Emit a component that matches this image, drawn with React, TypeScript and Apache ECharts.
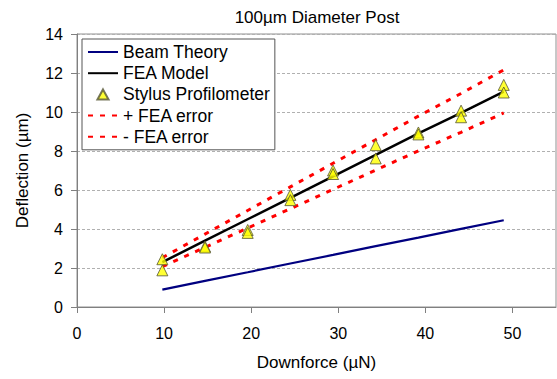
import React, { useEffect, useRef } from "react";
import * as echarts from "echarts";

const downforce = [9.8, 14.7, 19.6, 24.5, 29.4, 34.3, 39.2, 44.1, 49.0];
const beamTheory = [0.89, 1.34, 1.78, 2.23, 2.67, 3.12, 3.56, 4.01, 4.45];
const feaModel = [2.3, 3.4, 4.5, 5.6, 6.7, 7.8, 8.9, 9.95, 11.05];
const feaPlus = [2.53, 3.74, 4.95, 6.16, 7.37, 8.58, 9.79, 10.95, 12.16];
const feaMinus = [2.07, 3.06, 4.05, 5.04, 6.03, 7.02, 8.01, 8.96, 9.95];
const stylusHigh = [2.45, 3.1, 3.95, 5.75, 7.0, 8.3, 8.95, 10.07, 11.39];
const stylusLow = [1.88, 3.05, 3.8, 5.48, 6.82, 7.62, 8.85, 9.73, 11.0];
const xTicks = [0, 10, 20, 30, 40, 50];
const legendNames = ["Beam Theory", "FEA Model", "Stylus Profilometer", "+ FEA error", "- FEA error"];

const pairs = (ys: number[]) => downforce.map((x, i) => [x, ys[i]]);

const FONT = "'Liberation Sans', Arial, sans-serif";

export default function App() {
  const ref = useRef<HTMLDivElement>(null);
  useEffect(() => {
    if (!ref.current) return;
    const chart = echarts.init(ref.current, undefined, { renderer: "svg" });
    const stylusPts = [...pairs(stylusHigh), ...pairs(stylusLow)];
    const legendData = legendNames.map((n) =>
      n === "Stylus Profilometer"
        ? { name: n, icon: "path://M5,0 L10,9 L0,9 Z" }
        : { name: n, itemStyle: { opacity: 0 } }
    );
    chart.setOption({
      animation: false,
      backgroundColor: "#ffffff",
      textStyle: { fontFamily: FONT },
      title: {
        text: "100\u00b5m Diameter Post",
        left: 312,
        textAlign: "center",
        top: 4,
        textStyle: { fontFamily: FONT, fontSize: 17, fontWeight: "normal", color: "#000" },
      },
      legend: {
        orient: "vertical",
        left: 82,
        top: 39,
        padding: [4, 5, 4, 5],
        itemGap: 3.2,
        itemWidth: 30,
        itemHeight: 10,
        symbolKeepAspect: true,
        backgroundColor: "#ffffff",
        borderColor: "#555555",
        borderWidth: 1,
        data: legendData,
        textStyle: { fontFamily: FONT, fontSize: 17.5, color: "#000" },
      },
      grid: {
        left: 77,
        right: 1,
        top: 34,
        bottom: 72,
        show: true,
        borderColor: "#909090",
        borderWidth: 1,
        backgroundColor: "#ffffff",
      },
      xAxis: {
        type: "value",
        min: 0,
        max: 55,
        interval: 10,
        name: "Downforce (\u00b5N)",
        nameLocation: "middle",
        nameGap: 47,
        nameTextStyle: { fontFamily: FONT, fontSize: 17, color: "#000" },
        axisLine: { show: true, lineStyle: { color: "#808080", width: 1 } },
        axisTick: { show: true, length: 6, lineStyle: { color: "#808080" }, customValues: xTicks },
        axisLabel: { fontFamily: FONT, fontSize: 16, color: "#000", margin: 18, customValues: xTicks },
        splitLine: { show: false },
      },
      yAxis: {
        type: "value",
        min: 0,
        max: 14,
        interval: 2,
        name: "Deflection (\u00b5m)",
        nameLocation: "middle",
        nameGap: 46,
        nameTextStyle: { fontFamily: FONT, fontSize: 17, color: "#000" },
        axisLine: { show: true, lineStyle: { color: "#808080", width: 1 } },
        axisTick: { show: true, length: 6, lineStyle: { color: "#808080" } },
        axisLabel: { fontFamily: FONT, fontSize: 16, color: "#000", margin: 14 },
        splitLine: { show: true, lineStyle: { color: "#b0b0b0", type: [3, 2], width: 1 } },
      },
      series: [
        {
          name: "Beam Theory",
          type: "line",
          data: pairs(beamTheory),
          symbol: "none",
          lineStyle: { color: "#000080", width: 2.2 },
          itemStyle: { color: "#000080" },
          z: 2,
        },
        {
          name: "FEA Model",
          type: "line",
          data: pairs(feaModel),
          symbol: "none",
          lineStyle: { color: "#000000", width: 2.5 },
          itemStyle: { color: "#000000" },
          z: 3,
        },
        {
          name: "Stylus Profilometer",
          type: "scatter",
          data: stylusPts,
          symbol: "triangle",
          symbolSize: 11,
          itemStyle: { color: "#ffff00", borderColor: "#555533", borderWidth: 1 },
          z: 5,
        },
        {
          name: "+ FEA error",
          type: "line",
          data: pairs(feaPlus),
          symbol: "none",
          lineStyle: { color: "#ff0000", width: 3, type: [5, 7] },
          itemStyle: { color: "#ff0000" },
          z: 4,
        },
        {
          name: "- FEA error",
          type: "line",
          data: pairs(feaMinus),
          symbol: "none",
          lineStyle: { color: "#ff0000", width: 3, type: [5, 7] },
          itemStyle: { color: "#ff0000" },
          z: 4,
        },
      ],
    });
    return () => chart.dispose();
  }, []);
  return <div ref={ref} style={{ width: 557, height: 379, position: "absolute", left: 0, top: 0 }} />;
}
